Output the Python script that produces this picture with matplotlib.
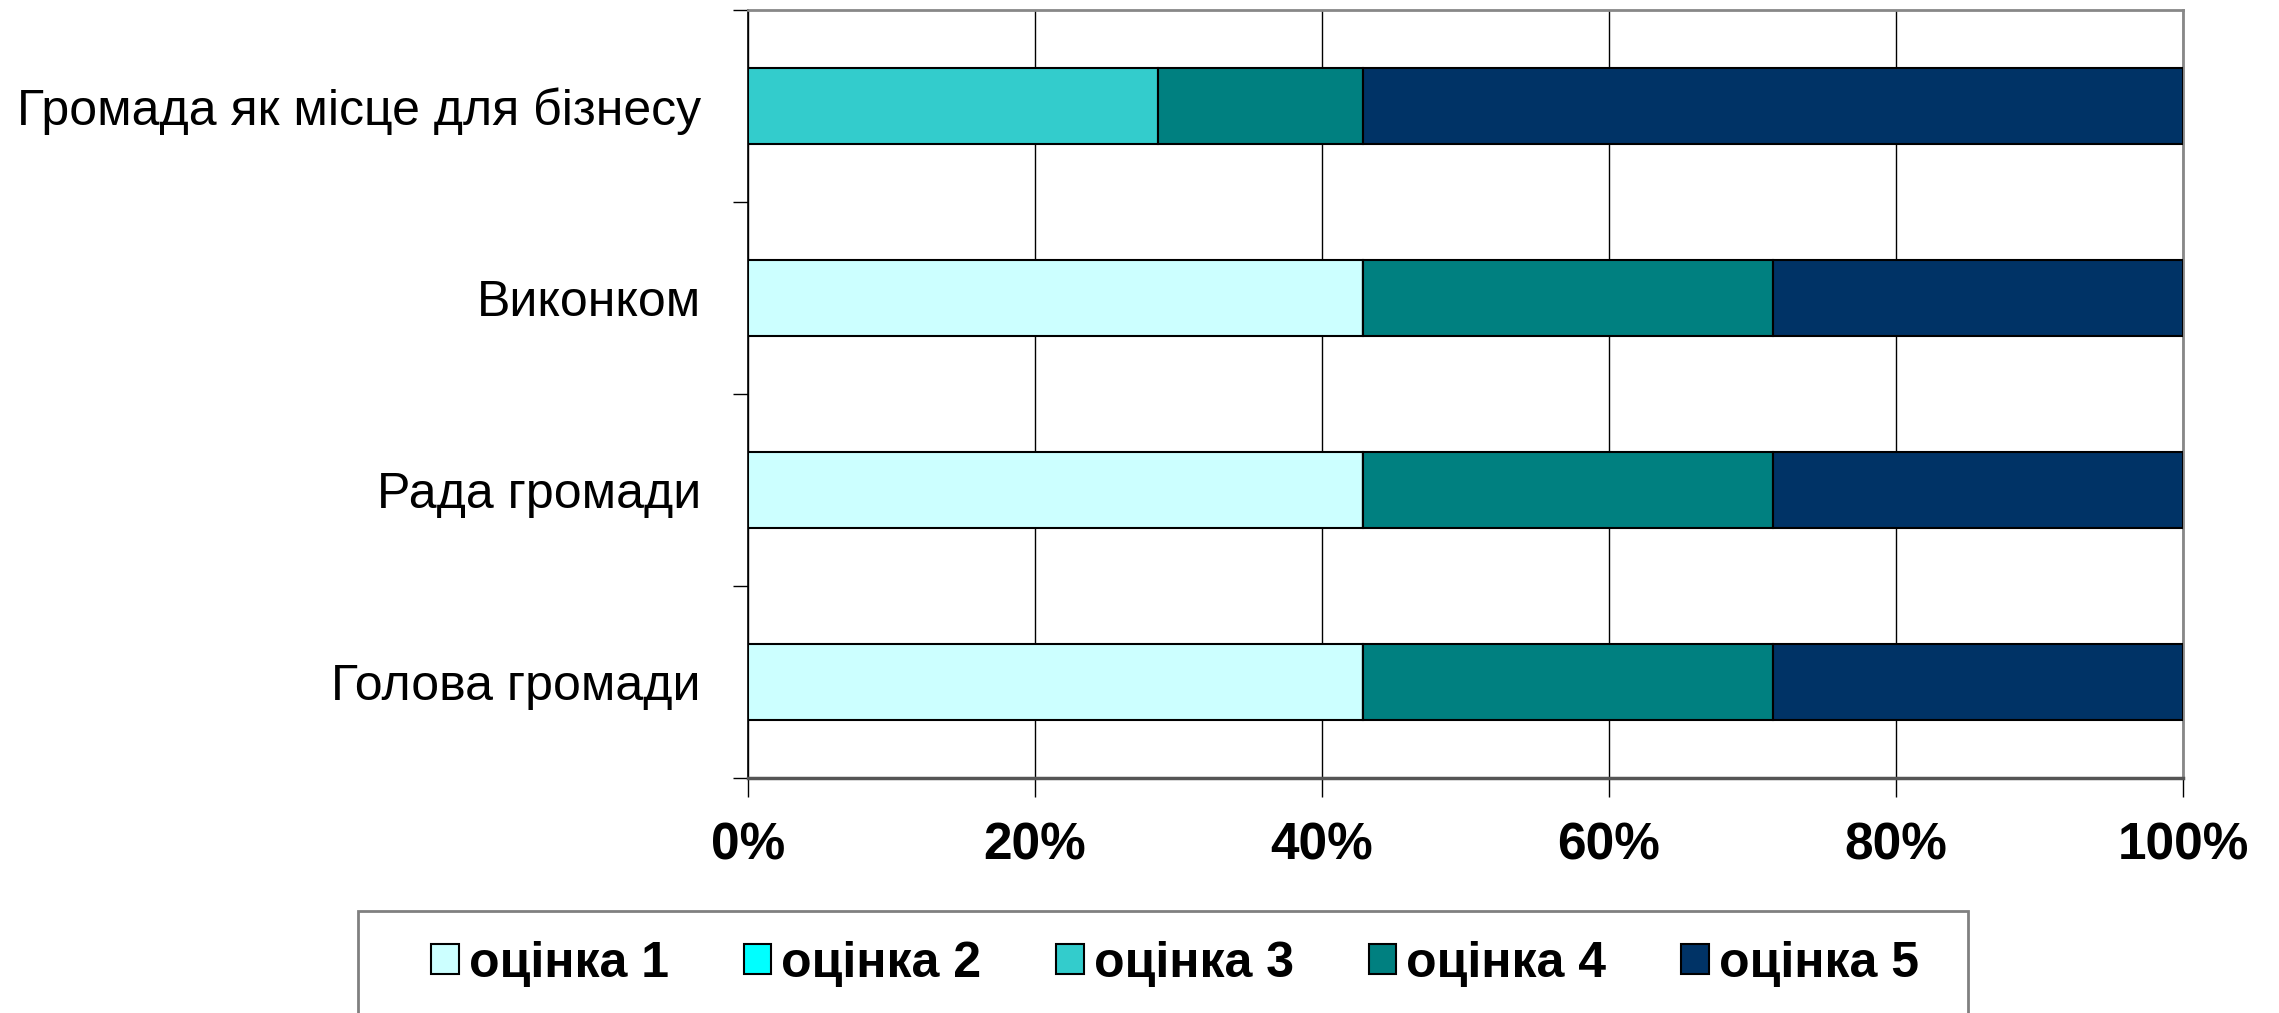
import numpy as np
import matplotlib.pyplot as plt
from matplotlib.patches import Rectangle
from matplotlib.ticker import FuncFormatter

plt.rcParams['font.family'] = ['Liberation Sans Narrow', 'Liberation Sans', 'DejaVu Sans']

# категорії знизу догори
categories = ["Голова громади", "Рада громади", "Виконком", "Громада як місце для бізнесу"]
series_names = ["оцінка 1", "оцінка 2", "оцінка 3", "оцінка 4", "оцінка 5"]
colors = ["#CCFFFF", "#00FFFF", "#33CCCC", "#008080", "#003366"]

# частки у відсотках
score1 = [42.86, 42.86, 42.86, 0.0]
score2 = [0.0, 0.0, 0.0, 0.0]
score3 = [0.0, 0.0, 0.0, 28.57]
score4 = [28.57, 28.57, 28.57, 14.29]
score5 = [28.57, 28.57, 28.57, 57.14]
series = [score1, score2, score3, score4, score5]

x_ticks = [0, 20, 40, 60, 80, 100]

fig = plt.figure(figsize=(22.79, 10.13), dpi=100)
ax = fig.add_axes([748 / 2279, 1 - 778 / 1013, (2183 - 748) / 2279, (778 - 10) / 1013])

y = np.arange(len(categories))
left = np.zeros(len(categories))
for name, vals, col in zip(series_names, series, colors):
    vals = np.array(vals)
    ax.barh(y, vals, left=left, height=0.4, color=col, edgecolor="black",
            linewidth=1.5, label=name, zorder=3)
    left += vals

ax.set_xlim(0, 100)
ax.set_ylim(-0.5, len(categories) - 0.5)
ax.set_xticks(x_ticks)
ax.xaxis.set_major_formatter(FuncFormatter(lambda v, p: f"{v:.0f}%"))
ax.tick_params(axis="x", length=14, width=1, pad=17, labelsize=37)
for lbl in ax.get_xticklabels():
    lbl.set_fontweight("bold")

ax.set_yticks(y)
ax.set_yticklabels(categories, fontsize=36)
ax.tick_params(axis="y", length=0, pad=34)
ax.set_yticks(np.arange(-0.5, len(categories)), minor=True)
ax.tick_params(axis="y", which="minor", length=11, width=1)

ax.grid(axis="x", color="black", linewidth=1, zorder=0)
ax.spines["left"].set_color("black")
ax.spines["left"].set_linewidth(1.2)
ax.spines["bottom"].set_color("#555555")
ax.spines["bottom"].set_linewidth(2.5)
ax.spines["top"].set_color("#888888")
ax.spines["top"].set_linewidth(2)
ax.spines["right"].set_color("#888888")
ax.spines["right"].set_linewidth(2)

# рамка легенди (нижній край виходить за межі рисунка)
fig.patches.append(Rectangle((358 / 2279, -0.05), (1968 - 358) / 2279, 0.05 + 1 - 911 / 1013,
                             transform=fig.transFigure, fill=False,
                             edgecolor="#808080", linewidth=2))
leg = fig.legend(loc="center", bbox_to_anchor=(1175 / 2279, 1 - 964 / 1013), ncol=5,
                 frameon=False, prop={"size": 36, "weight": "bold"},
                 handlelength=0.55, handleheight=0.55, handletextpad=0.2,
                 columnspacing=1.5)
for h in leg.legend_handles:
    h.set_edgecolor("black")
    h.set_linewidth(1.5)

fig.savefig("out.png", dpi=100)
